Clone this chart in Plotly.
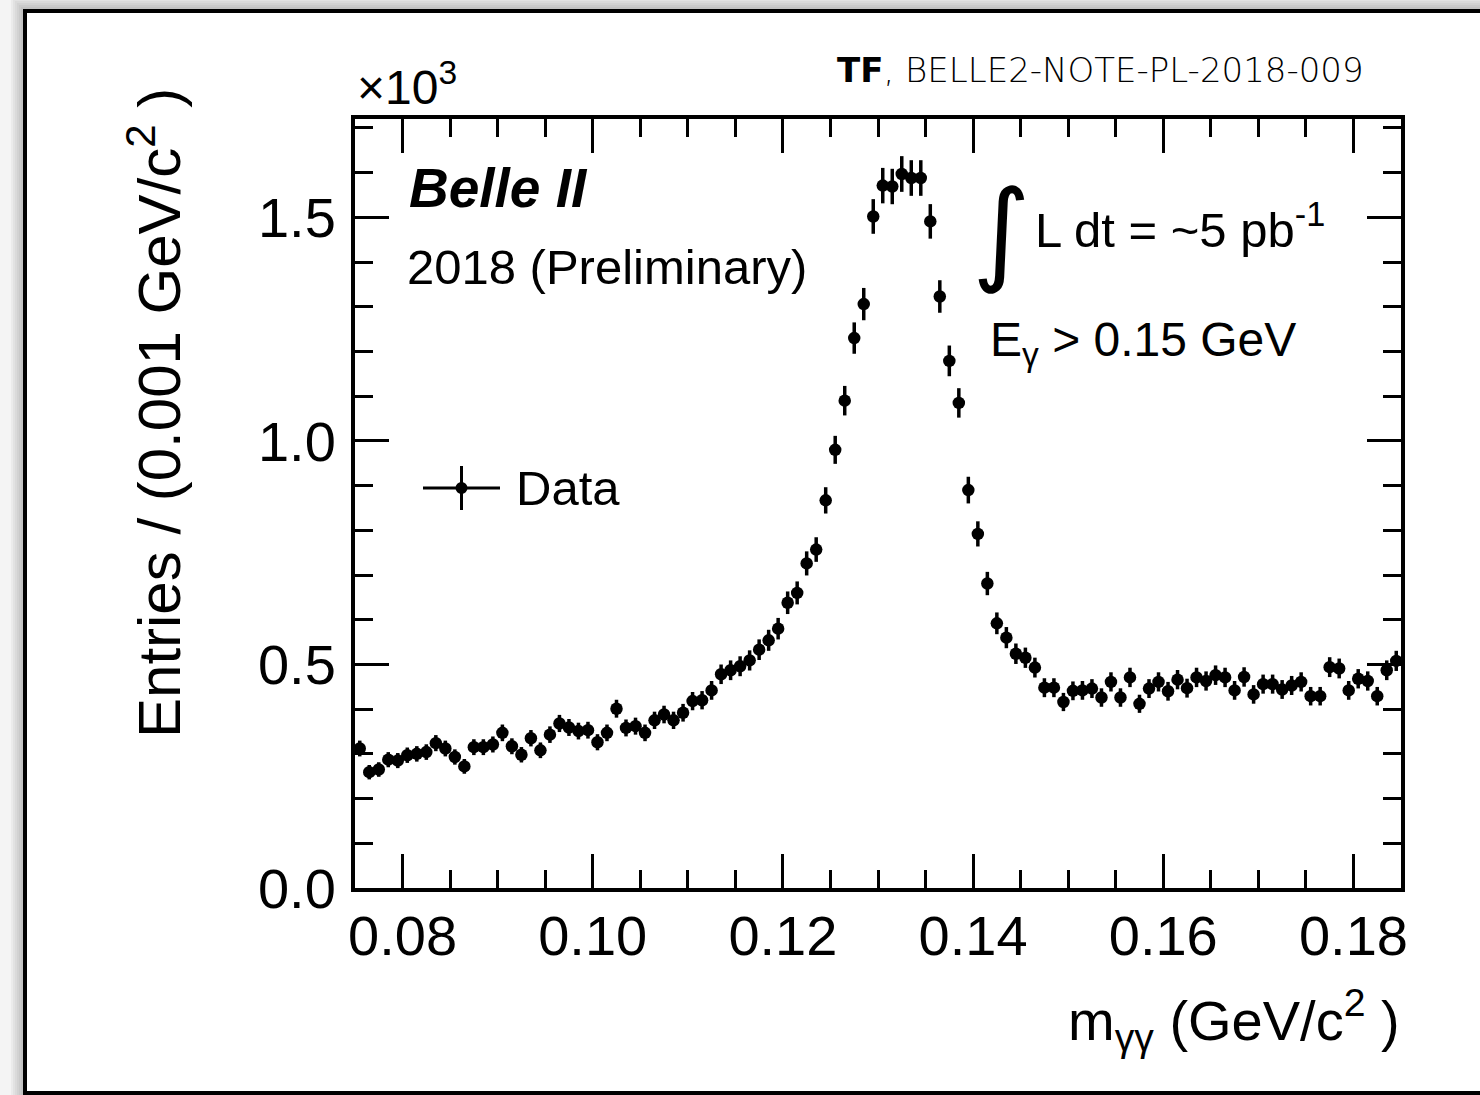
import numpy as np
import plotly.graph_objects as go

# Diphoton invariant mass histogram, 0.001 GeV/c^2 bins from 0.075 to 0.185
bin_low = 0.075
bin_width = 0.001
# Entries per bin, in units of 10^3
entries = [
    0.312, 0.259, 0.265, 0.287, 0.285, 0.297, 0.300, 0.304, 0.324, 0.312,
    0.293, 0.272, 0.315, 0.315, 0.321, 0.347, 0.317, 0.298, 0.335, 0.308,
    0.343, 0.368, 0.359, 0.351, 0.353, 0.326, 0.347, 0.401, 0.358, 0.362,
    0.347, 0.375, 0.388, 0.375, 0.392, 0.418, 0.420, 0.442, 0.478, 0.487,
    0.496, 0.509, 0.533, 0.554, 0.580, 0.638, 0.660, 0.726, 0.757, 0.867,
    0.980, 1.090, 1.230, 1.306, 1.502, 1.571, 1.569, 1.597, 1.588, 1.588,
    1.491, 1.323, 1.179, 1.085, 0.890, 0.792, 0.681, 0.592, 0.560, 0.524,
    0.515, 0.493, 0.448, 0.448, 0.416, 0.441, 0.442, 0.446, 0.426, 0.461,
    0.426, 0.471, 0.412, 0.446, 0.461, 0.440, 0.466, 0.447, 0.471, 0.463,
    0.476, 0.471, 0.442, 0.472, 0.433, 0.456, 0.456, 0.444, 0.453, 0.461,
    0.429, 0.429, 0.494, 0.491, 0.442, 0.468, 0.463, 0.429, 0.487, 0.508,
]
x_ticks = [0.08, 0.10, 0.12, 0.14, 0.16, 0.18]
y_ticks = [0.0, 0.5, 1.0, 1.5]

centers = bin_low + bin_width * (np.arange(len(entries)) + 0.5)
counts = np.array(entries)
errors = np.sqrt(counts * 1000.0) / 1000.0  # Poisson uncertainty

W, H = 1480, 1095
ML, MR, MT, MB = 355, 79, 119, 207
PW, PH = W - ML - MR, H - MT - MB


def px(xp):
    return (xp - ML) / PW


def py(yp):
    return (H - MB - yp) / PH


FONT = "Liberation Sans, Arial, Helvetica, sans-serif"

fig = go.Figure()
fig.add_trace(go.Scatter(
    x=centers, y=counts, mode="markers", name="Data",
    marker=dict(color="black", size=12.5, symbol="circle"),
    error_y=dict(type="data", array=errors, visible=True,
                 color="black", thickness=3.5, width=0),
    showlegend=False,
))

axis_common = dict(
    showline=True, linecolor="black", linewidth=4, mirror="ticks",
    ticks="inside", ticklen=34, tickwidth=3, tickcolor="black",
    showgrid=False, zeroline=False,
    tickfont=dict(family=FONT, size=56, color="black"),
)

fig.update_xaxes(
    range=[0.075, 0.185], tickvals=x_ticks, tickformat=".2f",
    minor=dict(ticks="inside", ticklen=18, tickwidth=3, tickcolor="black",
               dtick=0.005, tick0=0.075, showgrid=False),
    ticklabelstandoff=-4,
    **axis_common,
)
fig.update_yaxes(
    range=[0.0, 1.72], tickvals=y_ticks, tickformat=".1f",
    minor=dict(ticks="inside", ticklen=18, tickwidth=3, tickcolor="black",
               dtick=0.1, tick0=0.0, showgrid=False),
    ticklabelstandoff=4,
    **axis_common,
)

shapes = []
# drop shadow around the page frame
for i in range(7):
    d = 2 + 2 * i
    shapes.append(dict(type="rect", xref="paper", yref="paper", layer="below",
                       x0=px(25 - d), x1=px(1560), y0=py(1093 + d), y1=py(11 - d),
                       fillcolor="rgba(0,0,0,0.035)", line=dict(width=0)))
# page frame
shapes.append(dict(type="rect", xref="paper", yref="paper", layer="below",
                   x0=px(25), x1=px(1560), y0=py(1093), y1=py(11),
                   fillcolor="white", line=dict(color="black", width=4)))
# legend glyph: marker with horizontal and vertical bars
shapes.append(dict(type="line", xref="paper", yref="paper",
                   x0=px(423), x1=px(500), y0=py(488), y1=py(488),
                   line=dict(color="black", width=3)))
shapes.append(dict(type="line", xref="paper", yref="paper",
                   x0=px(461.5), x1=px(461.5), y0=py(466), y1=py(510),
                   line=dict(color="black", width=3)))
shapes.append(dict(type="circle", xref="paper", yref="paper",
                   x0=px(455.5), x1=px(467.5), y0=py(494), y1=py(482),
                   fillcolor="black", line=dict(color="black", width=0)))

annotations = [
    dict(text="Entries / (0.001 GeV/c<sup>2</sup> )", textangle=-90,
         x=px(155), y=py(86), xanchor="center", yanchor="top",
         font=dict(family=FONT, size=60, color="black")),
    dict(text="m<sub>γγ</sub> (GeV/c<sup>2</sup> )",
         x=px(1402), y=py(1020), xanchor="right", yanchor="middle",
         font=dict(family=FONT, size=56, color="black")),
    dict(text="×10<sup>3</sup>",
         x=px(355), y=py(116), xanchor="left", yanchor="bottom",
         font=dict(family=FONT, size=48, color="black")),
    dict(text="<b><i>Belle II</i></b>",
         x=px(407), y=py(188), xanchor="left", yanchor="middle",
         font=dict(family=FONT, size=55, color="black")),
    dict(text="2018 (Preliminary)",
         x=px(405), y=py(267), xanchor="left", yanchor="middle",
         font=dict(family=FONT, size=49, color="black")),
    dict(text="Data",
         x=px(514), y=py(488), xanchor="left", yanchor="middle",
         font=dict(family=FONT, size=49, color="black")),
    dict(text="∫",
         x=px(1001), y=py(231), xanchor="center", yanchor="middle",
         font=dict(family="DejaVu Sans, sans-serif", size=112, color="black")),
    dict(text="L dt = ~5 pb<sup>-1</sup>",
         x=px(1033), y=py(226), xanchor="left", yanchor="middle",
         font=dict(family=FONT, size=49, color="black")),
    dict(text="E<sub>γ</sub> > 0.15 GeV",
         x=px(988), y=py(343), xanchor="left", yanchor="middle",
         font=dict(family=FONT, size=48, color="black")),
    dict(text="<b>TF</b>, BELLE2-NOTE-PL-2018-009",
         x=px(1366), y=py(70), xanchor="right", yanchor="middle",
         font=dict(family="DejaVu Sans, sans-serif", size=34, color="black",
                   weight=300)),
]
for a in annotations:
    a.update(xref="paper", yref="paper", showarrow=False)

fig.update_layout(
    width=W, height=H,
    margin=dict(l=ML, r=MR, t=MT, b=MB, pad=0),
    paper_bgcolor="#f4f4f4", plot_bgcolor="white",
    shapes=shapes, annotations=annotations,
    showlegend=False,
)

fig.write_html("out.html")
